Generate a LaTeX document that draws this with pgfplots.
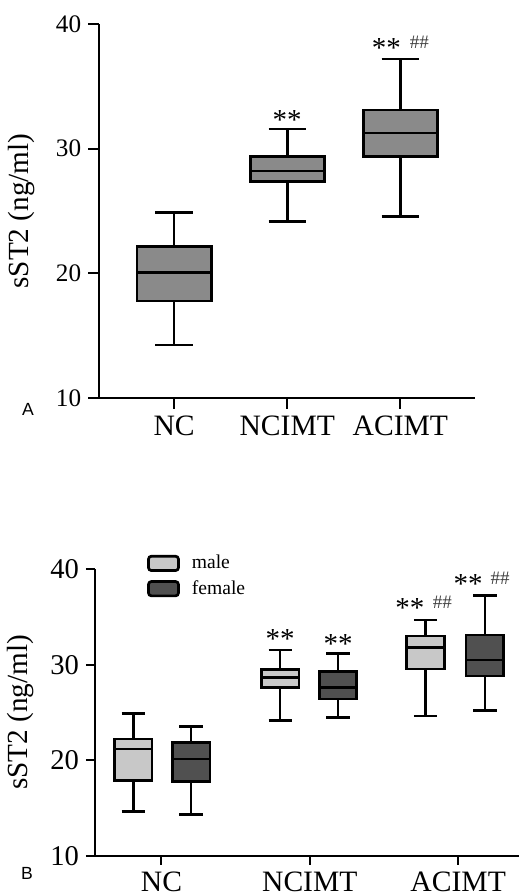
\documentclass[border=0pt]{standalone}
\usepackage{fontspec}
\setmainfont{Liberation Serif}
\newfontfamily\arial{Liberation Sans}
\usepackage{pgfplots}
\pgfplotsset{compat=1.18}
\usepgfplotslibrary{statistics}
\definecolor{boxA}{HTML}{8A8A8A}
\definecolor{male}{HTML}{C8C8C8}
\definecolor{female}{HTML}{505050}

\pgfplotsset{
  sst/.style={scale only axis,
    axis x line*=bottom, axis y line*=left,
    axis line style={line width=1pt,-},
    every tick/.style={black,line width=1pt},
    tick align=outside,
    boxplot/draw direction=y,
    ymin=10,ymax=40,ytick={10,20,30,40},
    xtick={0,1,2},xticklabels={NC,NCIMT,ACIMT},
    /pgf/number format/assume math mode=true,
    ylabel={sST2 (ng/ml)},
    ylabel style={font=\fontsize{14.6}{16}\selectfont,anchor=center},
    xticklabel style={font=\fontsize{14.8}{16}\selectfont},
  },
  bx/.style={draw=black,line width=1.35pt,solid,mark=none,forget plot},
}

\begin{document}
\begin{tikzpicture}
\useasboundingbox (0pt,0pt) rectangle (259.5pt,-446.5pt);

% panel A
\begin{axis}[sst,at={(49.5pt,-199pt)},anchor=south west,width=188pt,height=187pt,
  xmin=-0.664,xmax=2.66,
  major tick length=5.4pt,
  yticklabel style={font=\fontsize{12.6}{14}\selectfont},
  ylabel style={at={(axis description cs:-0.205,0.5)}},
]
\addplot[bx,fill=boxA,boxplot prepared={draw position=0,lower whisker=14.24,lower quartile=17.78,median=20.08,upper quartile=22.16,upper whisker=24.88,box extend=0.655,whisker extend=0.33}] coordinates {};
\addplot[bx,fill=boxA,boxplot prepared={draw position=1,lower whisker=24.16,lower quartile=27.36,median=28.2,upper quartile=29.4,upper whisker=31.57,box extend=0.655,whisker extend=0.33}] coordinates {};
\addplot[bx,fill=boxA,boxplot prepared={draw position=2,lower whisker=24.56,lower quartile=29.4,median=31.25,upper quartile=33.1,upper whisker=37.2,box extend=0.655,whisker extend=0.33}] coordinates {};
\node[font=\fontsize{14.5}{14}\selectfont] at (axis cs:1,32.3) {**};
\node[font=\fontsize{14.5}{14}\selectfont] at (axis cs:1.876,38.05) {**};
\node[font=\fontsize{9.5}{9}\selectfont,text=black!75] at (axis cs:2.168,38.5) {\#\#};
\end{axis}
\node[font=\arial\fontsize{8.8}{9}\selectfont] at (14pt,-204.5pt) {A};

% panel B
\begin{axis}[sst,at={(47.5pt,-427.85pt)},anchor=south west,width=212pt,height=143.2pt,
  xmin=-0.448,xmax=2.41,
  major tick length=4.5pt,
  yticklabel style={font=\fontsize{14.3}{16}\selectfont},
  ylabel style={at={(axis description cs:-0.175,0.5)}},
  legend cell align=left,
  legend style={draw=none,fill=none,at={(axis description cs:0.122,1.065)},anchor=north west,
    font=\fontsize{9.8}{10}\selectfont,row sep=0.3pt,inner sep=0pt},
  legend image code/.code={\draw[#1,rounded corners=1.5pt] (0pt,-3.6pt) rectangle (15pt,3.6pt);
    \path (19pt,0pt);},
]
\addplot[bx,fill=male,boxplot prepared={draw position=-0.19,lower whisker=14.65,lower quartile=17.89,median=21.18,upper quartile=22.22,upper whisker=24.91,box extend=0.253,whisker extend=0.157}] coordinates {};
\addplot[bx,fill=female,boxplot prepared={draw position=0.2,lower whisker=14.33,lower quartile=17.75,median=20.13,upper quartile=21.84,upper whisker=23.52,box extend=0.253,whisker extend=0.157}] coordinates {};
\addplot[bx,fill=male,boxplot prepared={draw position=0.8,lower whisker=24.18,lower quartile=27.6,median=28.65,upper quartile=29.52,upper whisker=31.55,box extend=0.253,whisker extend=0.157}] coordinates {};
\addplot[bx,fill=female,boxplot prepared={draw position=1.19,lower whisker=24.46,lower quartile=26.42,median=27.6,upper quartile=29.32,upper whisker=31.2,box extend=0.253,whisker extend=0.157}] coordinates {};
\addplot[bx,fill=male,boxplot prepared={draw position=1.78,lower whisker=24.63,lower quartile=29.56,median=31.8,upper quartile=33.02,upper whisker=34.69,box extend=0.253,whisker extend=0.157}] coordinates {};
\addplot[bx,fill=female,boxplot prepared={draw position=2.18,lower whisker=25.19,lower quartile=28.83,median=30.5,upper quartile=33.12,upper whisker=37.24,box extend=0.253,whisker extend=0.157}] coordinates {};
\addlegendimage{draw=black,line width=1.35pt,fill=male}
\addlegendentry{male}
\addlegendimage{draw=black,line width=1.35pt,fill=female}
\addlegendentry{female}
\node[font=\fontsize{14.5}{14}\selectfont] at (axis cs:0.80,32.7) {**};
\node[font=\fontsize{14.5}{14}\selectfont] at (axis cs:1.19,32.2) {**};
\node[font=\fontsize{14.5}{14}\selectfont] at (axis cs:1.674,35.9) {**};
\node[font=\fontsize{9.5}{9}\selectfont,text=black!75] at (axis cs:1.893,36.5) {\#\#};
\node[font=\fontsize{14.5}{14}\selectfont] at (axis cs:2.067,38.5) {**};
\node[font=\fontsize{9.5}{9}\selectfont,text=black!75] at (axis cs:2.283,39.1) {\#\#};
\end{axis}
\node[font=\arial\fontsize{8.8}{9}\selectfont] at (13.5pt,-436.5pt) {B};
\end{tikzpicture}
\end{document}
